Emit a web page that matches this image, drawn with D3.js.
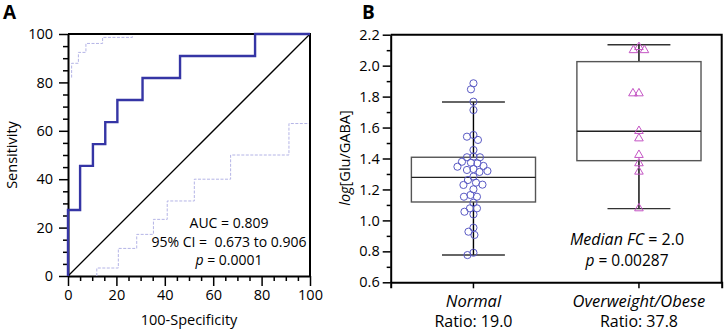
<!DOCTYPE html>
<html><head><meta charset="utf-8">
<script src="https://cdn.jsdelivr.net/npm/d3@7"></script>
<style>
body{margin:0;background:#fff;}
svg{display:block;font-family:"Open Sans",sans-serif;}
</style></head>
<body>
<svg id="chart" width="724" height="332"></svg>
<script>
// ---- Panel A data (ROC) ----
const rocFPR = [0, 0, 5, 10.3, 15.4, 20.4, 30.8, 46.3, 77.3, 100];
const rocTPR = [0, 27.3, 45.5, 54.5, 63.6, 72.7, 81.8, 90.9, 100, 100];
const ciUpFPR = [1.5, 1.5, 4.3, 7.4, 14.3, 26.6, 100];
const ciUpTPR = [82, 87.9, 92.4, 96.1, 98.6, 100, 100];
const ciLoFPR = [11.9, 11.9, 20.8, 28.4, 35.3, 41, 52.2, 67.2, 91.3, 100, 100];
const ciLoTPR = [0, 3.3, 11.4, 17.2, 23.4, 31, 40, 50, 63, 63, 100];
const aTicks = [0, 20, 40, 60, 80, 100];
const aMinorTicks = d3.range(0, 101, 5);
const aStats = ["AUC = 0.809", "95% CI =  0.673 to 0.906"];
const aP = "0.0001";

// ---- Panel B data (box plots) ----
const categories = ["Normal", "Overweight/Obese"];
const ratios = ["Ratio: 19.0", "Ratio: 37.8"];
const normalValues = [1.886, 1.847, 1.767, 1.713, 1.552, 1.541, 1.520, 1.455, 1.412, 1.408, 1.408,
  1.379, 1.373, 1.369, 1.352, 1.347, 1.332, 1.326, 1.319, 1.313, 1.283, 1.261, 1.244, 1.231, 1.229,
  1.201, 1.164, 1.153, 1.153, 1.114, 1.078, 1.078, 1.056, 1.039, 0.953, 0.927, 0.906, 0.791, 0.776];
const obeseValues = [2.12, 2.10, 2.10, 1.821, 1.821, 1.578, 1.53, 1.423, 1.369, 1.315, 1.078];
// box statistics: [whiskerLow, q1, median, q3, whiskerHigh]
const normalBox = [0.776, 1.119, 1.278, 1.408, 1.765];
const obeseBox = [1.076, 1.386, 1.576, 2.026, 2.135];
const bTicks = [0.6, 0.8, 1.0, 1.2, 1.4, 1.6, 1.8, 2.0, 2.2];
const bMinorTicks = d3.range(6, 23, 1).map(v => v / 10);
const bFC = "2.0";
const bP = "0.00287";

const svg = d3.select("#chart");
const rocColor = "#3535a5", ciColor = "#b4b4e6", circColor = "#5a5ac4", triColor = "#c455c4";

// ================= Panel A =================
const ax = d3.scaleLinear().domain([0, 100]).range([68, 310]);
const ay = d3.scaleLinear().domain([0, 100]).range([276, 34]);
const gA = svg.append("g");

function styleAxis(g, majorSet, majorLen, minorLen, horizontal) {
  g.select(".domain").attr("stroke", "#000").attr("stroke-width", 2);
  g.selectAll(".tick line").attr("stroke", "#000").attr("stroke-width", 1.5)
    .each(function(d) {
      const len = majorSet(d) ? majorLen : minorLen;
      d3.select(this).attr(horizontal ? "y2" : "x2", horizontal ? len : -len);
    });
  g.selectAll(".tick text").attr("font-size", 14.5).attr("fill", "#000")
    .attr("font-family", "Open Sans");
}
const isMajA = d => aTicks.includes(d);

const gAy = gA.append("g").attr("transform", `translate(${ax(0)},0)`)
  .call(d3.axisLeft(ay).tickValues(aMinorTicks).tickSizeOuter(0)
    .tickFormat(d => isMajA(d) ? d : "").tickPadding(6));
styleAxis(gAy, isMajA, 9, 5, false);
gAy.selectAll(".tick text").attr("x", -15);

const gAx = gA.append("g").attr("transform", `translate(0,${ay(0)})`)
  .call(d3.axisBottom(ax).tickValues(aMinorTicks).tickSizeOuter(0)
    .tickFormat(d => isMajA(d) ? d : ""));
styleAxis(gAx, isMajA, 10, 5, true);
gAx.selectAll(".tick text").attr("y", 14);

// CI lines
const stepLine = d3.line().curve(d3.curveStepAfter);
function pts(xs, ys, sx, sy) { return xs.map((x, i) => [sx(x), sy(ys[i])]); }
gA.append("path").attr("d", stepLine(pts(ciUpFPR, ciUpTPR, ax, ay)))
  .attr("fill", "none").attr("stroke", ciColor).attr("stroke-width", 1).attr("stroke-dasharray", "3,1.5");
gA.append("path").attr("d", stepLine(pts(ciLoFPR, ciLoTPR, ax, ay)))
  .attr("fill", "none").attr("stroke", ciColor).attr("stroke-width", 1).attr("stroke-dasharray", "3,1.5");
// diagonal
gA.append("line").attr("x1", ax(0)).attr("y1", ay(0)).attr("x2", ax(100)).attr("y2", ay(100))
  .attr("stroke", "#000").attr("stroke-width", 1.3);
// frame
gA.append("path").attr("d", `M${ax(0)},${ay(100)}H${ax(100)}V${ay(0)}`)
  .attr("fill", "none").attr("stroke", "#000").attr("stroke-width", 2);
// ROC
gA.append("path").attr("d", stepLine(pts(rocFPR, rocTPR, ax, ay)))
  .attr("fill", "none").attr("stroke", rocColor).attr("stroke-width", 2.4);

// annotations
gA.append("text").attr("x", 229).attr("y", 228).attr("text-anchor", "middle")
  .attr("font-size", 14).text(aStats[0]);
gA.append("text").attr("x", 229).attr("y", 247).attr("text-anchor", "middle")
  .attr("font-size", 14).attr("xml:space", "preserve").text(aStats[1]);
const tpA = gA.append("text").attr("x", 229).attr("y", 265).attr("text-anchor", "middle").attr("font-size", 14);
tpA.append("tspan").attr("font-style", "italic").text("p");
tpA.append("tspan").text(" = " + aP);

gA.append("text").attr("x", 189).attr("y", 325).attr("text-anchor", "middle")
  .attr("font-size", 14.5).text("100-Specificity");
gA.append("text").attr("transform", `translate(17,155) rotate(-90)`).attr("text-anchor", "middle")
  .attr("font-size", 14.5).text("Sensitivity");
gA.append("text").attr("x", 3).attr("y", 19).attr("font-size", 19).attr("font-weight", "bold").text("A");

// ================= Panel B =================
const bx = d3.scaleBand().domain(categories).range([390.7, 721.7]).padding(0);
const by = d3.scaleLinear().domain([0.6, 2.2]).range([282.3, 34.7]);
const gB = svg.append("g");
const isMajB = d => bTicks.some(t => Math.abs(t - d) < 1e-6);

const gBy = gB.append("g").attr("transform", `translate(${bx.range()[0]},0)`)
  .call(d3.axisLeft(by).tickValues(bMinorTicks).tickSizeOuter(0)
    .tickFormat(d => isMajB(d) ? d3.format(".1f")(d) : ""));
styleAxis(gBy, isMajB, 8, 4, false);
gBy.selectAll(".tick text").attr("x", -11);

const gBx = gB.append("g").attr("transform", `translate(0,${by(0.6)})`)
  .call(d3.axisBottom(bx).tickSizeOuter(0).tickSize(6).tickFormat(""));
styleAxis(gBx, () => true, 6, 6, true);

gB.append("path").attr("d", `M${bx.range()[0]},${by(2.2)}H${bx.range()[1]}V${by(0.6)}`)
  .attr("fill", "none").attr("stroke", "#000").attr("stroke-width", 2);

const boxes = [normalBox, obeseBox];
const values = [normalValues, obeseValues];
categories.forEach((c, i) => {
  const cx = bx(c) + bx.bandwidth() / 2;
  const bw = bx.bandwidth() * 0.75, cw = bx.bandwidth() * 0.38;
  const [wl, q1, md, q3, wh] = boxes[i];
  const g = gB.append("g");
  g.append("line").attr("x1", cx).attr("x2", cx).attr("y1", by(q3)).attr("y2", by(wh))
    .attr("stroke", "#000").attr("stroke-width", 1.4);
  g.append("line").attr("x1", cx).attr("x2", cx).attr("y1", by(q1)).attr("y2", by(wl))
    .attr("stroke", "#000").attr("stroke-width", 1.4);
  [wl, wh].forEach(w => g.append("line").attr("x1", cx - cw / 2).attr("x2", cx + cw / 2)
    .attr("y1", by(w)).attr("y2", by(w)).attr("stroke", "#333").attr("stroke-width", 1.4));
  g.append("rect").attr("x", cx - bw / 2).attr("width", bw).attr("y", by(q3)).attr("height", by(q1) - by(q3))
    .attr("fill", "none").attr("stroke", "#555").attr("stroke-width", 1.4);
  g.append("line").attr("x1", cx - bw / 2).attr("x2", cx + bw / 2).attr("y1", by(md)).attr("y2", by(md))
    .attr("stroke", "#222").attr("stroke-width", 1.4);

  // beeswarm placement (slight overlap allowed, as in the reference)
  const r = 3.6;
  const minD = i === 0 ? 6.4 : 6.0;
  const placed = [];
  const sorted = values[i].slice().sort((a, b) => b - a);
  sorted.forEach(v => {
    const y = by(v);
    let off = 0;
    for (let k = 0; k < 200; k++) {
      const o = (k % 2 === 0 ? 1 : -1) * Math.ceil(k / 2) * 0.5;
      if (placed.every(p => Math.hypot(p.x - (cx + o), p.y - y) >= minD)) { off = o; break; }
    }
    placed.push({ x: cx + off, y });
  });
  if (i === 0) {
    g.selectAll("circle").data(placed).join("circle").attr("cx", d => d.x).attr("cy", d => d.y)
      .attr("r", r).attr("fill", "none").attr("stroke", circColor).attr("stroke-width", 1);
  } else {
    g.selectAll("path.tri").data(placed).join("path").attr("class", "tri")
      .attr("d", d3.symbol(d3.symbolTriangle).size(32)())
      .attr("transform", d => `translate(${d.x},${d.y})`)
      .attr("fill", "none").attr("stroke", triColor).attr("stroke-width", 1);
  }
  gB.append("text").attr("x", cx).attr("y", 307).attr("text-anchor", "middle")
    .attr("font-size", 16.5).attr("font-style", "italic").text(c);
  gB.append("text").attr("x", cx).attr("y", 327).attr("text-anchor", "middle")
    .attr("font-size", 16).text(ratios[i]);
});

const fc = gB.append("text").attr("x", 627).attr("y", 245).attr("text-anchor", "middle").attr("font-size", 16);
fc.append("tspan").attr("font-style", "italic").text("Median FC");
fc.append("tspan").text(" = " + bFC);
const pb = gB.append("text").attr("x", 627).attr("y", 266).attr("text-anchor", "middle").attr("font-size", 15.5);
pb.append("tspan").attr("font-style", "italic").text("p");
pb.append("tspan").text(" = " + bP);

const yl = gB.append("text").attr("transform", `translate(350,158) rotate(-90)`).attr("text-anchor", "middle")
  .attr("font-size", 14.5);
yl.append("tspan").attr("font-style", "italic").text("log");
yl.append("tspan").text("[Glu/GABA]");
gB.append("text").attr("x", 362).attr("y", 19).attr("font-size", 19).attr("font-weight", "bold").text("B");
</script>
</body></html>
